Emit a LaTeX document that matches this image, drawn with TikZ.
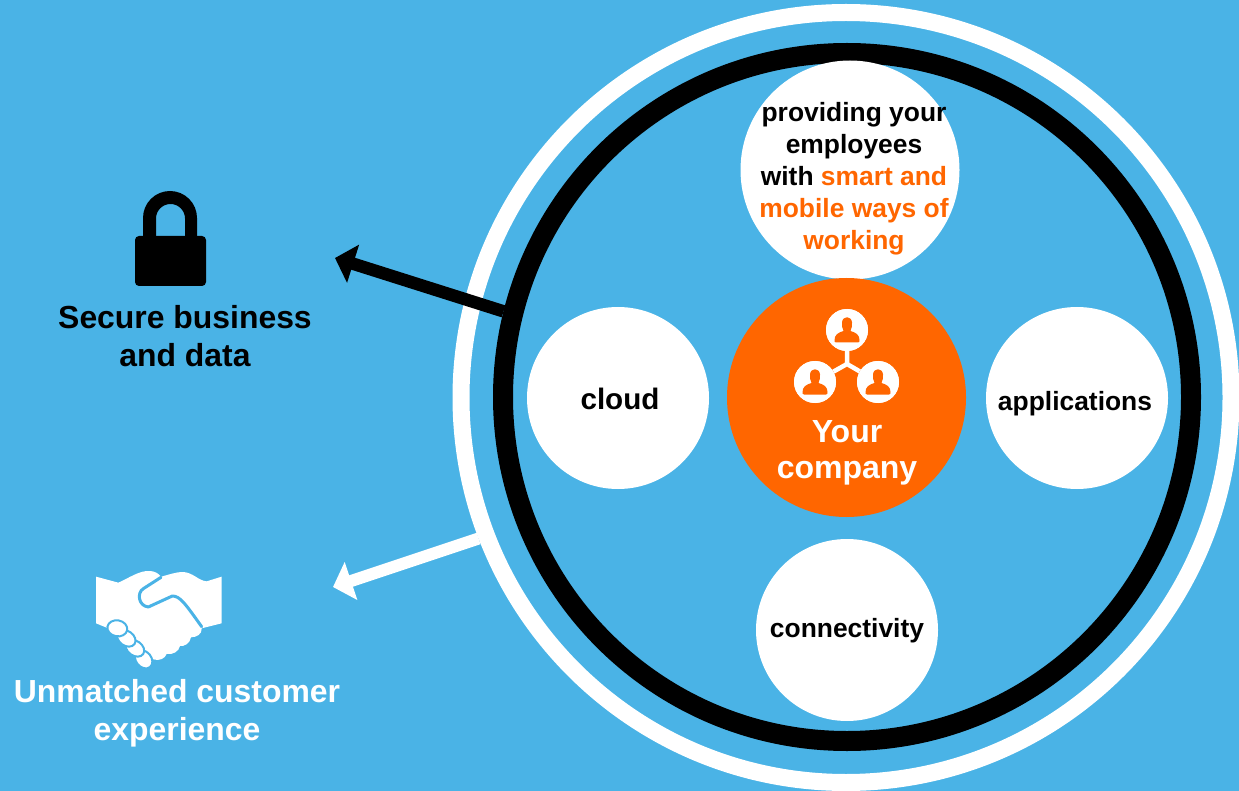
\documentclass[tikz,border=0pt]{standalone}
\usepackage{fontspec}
\setmainfont{Liberation Sans}
\usetikzlibrary{arrows.meta}
\definecolor{bgblue}{HTML}{4AB3E6}
\definecolor{brandorange}{HTML}{FF6600}
\tikzset{
  disc/.style={circle,fill=white,draw=none,inner sep=0pt,minimum size=#1},
  ring/.style={circle,draw=#1,fill=none,inner sep=0pt},
  lbl/.style={font=\bfseries,align=center,inner sep=0pt,text=black},
  shaft/.style={line width=#1},
  usernode/.style={circle,fill=white,inner sep=0pt,minimum size=42pt},
}
\newcommand{\personicon}[1]{%
  \fill[brandorange,shift={(#1)}]
    (-11,12.5) .. controls (-12.5,12.5) and (-12.5,11.5) .. (-12.5,10)
    .. controls (-12.5,5) and (-9,2.5) .. (-3.5,1)
    .. controls (-5,-2) and (-5.3,-5) .. (-5,-7.5)
    .. controls (-4.6,-14.5) and (4.6,-14.5) .. (5,-7.5)
    .. controls (5.3,-5) and (5,-2) .. (3.5,1)
    .. controls (9,2.5) and (12.5,5) .. (12.5,10)
    .. controls (12.5,11.5) and (12.5,12.5) .. (11,12.5) -- cycle;}
\begin{document}
\begin{tikzpicture}[x=1pt,y=-1pt]
\useasboundingbox (0,0) rectangle (1239,791);
\clip (0,0) rectangle (1239,791);
\fill[bgblue] (0,0) rectangle (1239,791);
% rings
\node[ring=white,line width=17pt,minimum size=770pt] (outerring) at (846,397.5) {};
\node[ring=black,line width=20pt,minimum size=688pt] (innerring) at (847,397) {};
% discs
\node[disc=219pt] (top) at (850,170) {};
\node[disc=182pt] (cloud) at (618,398) {};
\node[disc=182pt] (apps) at (1077,398) {};
\node[disc=182pt] (conn) at (847,630) {};
\node[circle,fill=brandorange,inner sep=0pt,minimum size=239pt] (company) at (846.5,397.5) {};
% labels
\node[lbl,font=\fontsize{26.4}{32}\selectfont\bfseries] (toptext) at (854,178.5) {providing your\\employees\\with \textcolor{brandorange}{smart and}\\\textcolor{brandorange}{mobile ways of}\\\textcolor{brandorange}{working}};
\node[lbl,font=\fontsize{29.6}{36}\selectfont\bfseries] (cloudtext) at (620,399) {cloud};
\node[lbl,font=\fontsize{26.4}{32}\selectfont\bfseries] (appstext) at (1075,404) {applications};
\node[lbl,font=\fontsize{26.4}{32}\selectfont\bfseries] (conntext) at (847,631) {connectivity};
\node[lbl,text=white,font=\fontsize{32}{36}\selectfont\bfseries] (companytext) at (847,452.5) {Your\\company};
\node[lbl,font=\fontsize{31.9}{38}\selectfont\bfseries] (securetext) at (185,336) {Secure business\\and data};
\node[lbl,text=white,font=\fontsize{31.9}{38}\selectfont\bfseries] (cxtext) at (177,713) {Unmatched customer\\experience};
% arrows
\coordinate (blacktip) at (335,258);
\coordinate (whitetip) at (333,587);
\draw[black,shaft=12.5pt,-{Triangle[length=19pt,width=39pt]}] (innerring.166.5) -- (blacktip);
\draw[white,shaft=12pt,-{Triangle[length=19pt,width=39pt]}] (outerring.201.3) -- (whitetip);
% company icon
\node[usernode] (u1) at (847,330) {};
\node[usernode] (u2) at (815,382) {};
\node[usernode] (u3) at (878,382) {};
\coordinate (hub) at (847,364);
\draw[white,line width=4.5pt] (u1) -- (hub) (u2) -- (hub) (u3) -- (hub);
\node[usernode] at (u1) {};
\node[usernode] at (u2) {};
\node[usernode] at (u3) {};
\personicon{847,330}
\personicon{815,382}
\personicon{878,382}
% lock
\fill[black] (143,240) -- (143,218) arc[start angle=180,end angle=360,radius=27] -- (197,240) -- (185,240) -- (185,218.5) arc[start angle=360,end angle=180,radius=14.5] -- (156,240) -- cycle;
\fill[black,rounded corners=4pt] (135,236) rectangle (206,286);
% handshake
\begin{scope}[shift={(85,560)},x=0.3333pt,y=-0.3333pt]
\fill[white] (33,50) -- (100,68) .. controls (130,55) and (165,30) .. (195,33)
  .. controls (210,34) and (220,40) .. (228,50)
  .. controls (250,45) and (270,36) .. (295,36)
  .. controls (325,38) and (340,62) .. (365,64) -- (410,50) -- (410,190)
  -- (350,205) .. controls (352,222) and (335,232) .. (318,232)
  .. controls (315,250) and (298,260) .. (285,258)
  .. controls (282,275) and (262,285) .. (245,282)
  .. controls (240,296) and (222,304) .. (205,298)
  -- (70,205) -- (33,190) -- cycle;
\draw[bgblue,line width=3pt,line cap=round,line join=round] (228,52) -- (175,86)
  .. controls (155,98) and (160,138) .. (190,141)
  -- (262,108) .. controls (285,108) and (300,130) .. (350,200);
\foreach \cx/\cy/\rx/\ry/\ang in {176/298/30/23/-50,150/265/30/22/-35,124/235/30/22/-35,97/205/30/24/-10}{
  \filldraw[fill=white,draw=bgblue,line width=2pt] (\cx,\cy) ellipse[x radius=\rx,y radius=\ry,rotate=\ang];
}
\end{scope}
\end{tikzpicture}
\end{document}
